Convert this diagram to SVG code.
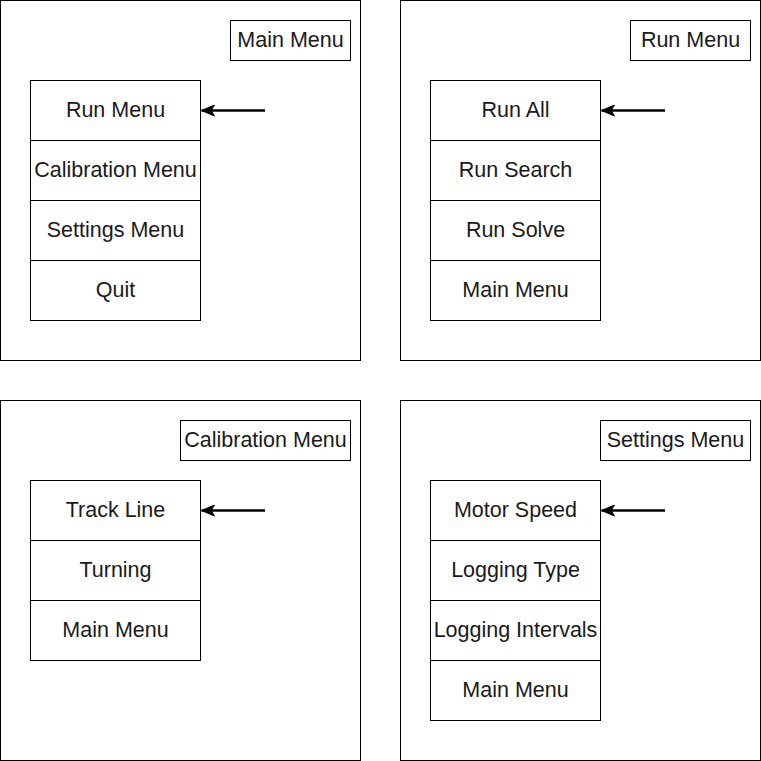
<svg xmlns="http://www.w3.org/2000/svg" width="761" height="761" viewBox="0 0 761 761">
<style>
rect{fill:#fff;stroke:#000;stroke-width:1}
text{font-family:"Liberation Sans",Arial,sans-serif;font-size:21.5px;fill:#1a1a1a;text-anchor:middle}
.arr{stroke:#000;stroke-width:2.5;fill:none}
</style>
<defs>
<marker id="ah" markerWidth="14" markerHeight="12" refX="13" refY="6" orient="auto" markerUnits="userSpaceOnUse">
<path d="M0,0.5 L13,6 L0,11.5 L3.5,6 Z" fill="#000" stroke="#000" stroke-width="1"/>
</marker>
</defs>
<g id="panel-main">
<rect x="0.5" y="0.5" width="360" height="360"/>
<rect x="230.5" y="20.5" width="120" height="40"/><text x="290.5" y="47">Main Menu</text>
<rect x="30.5" y="80.5" width="170" height="60"/><text x="115.5" y="117">Run Menu</text>
<rect x="30.5" y="140.5" width="170" height="60"/><text x="115.5" y="177">Calibration Menu</text>
<rect x="30.5" y="200.5" width="170" height="60"/><text x="115.5" y="237">Settings Menu</text>
<rect x="30.5" y="260.5" width="170" height="60"/><text x="115.5" y="297">Quit</text>
</g>
<g id="panel-run">
<rect x="400.5" y="0.5" width="360" height="360"/>
<rect x="630.5" y="20.5" width="120" height="40"/><text x="690.5" y="47">Run Menu</text>
<rect x="430.5" y="80.5" width="170" height="60"/><text x="515.5" y="117">Run All</text>
<rect x="430.5" y="140.5" width="170" height="60"/><text x="515.5" y="177">Run Search</text>
<rect x="430.5" y="200.5" width="170" height="60"/><text x="515.5" y="237">Run Solve</text>
<rect x="430.5" y="260.5" width="170" height="60"/><text x="515.5" y="297">Main Menu</text>
</g>
<g id="panel-calibration">
<rect x="0.5" y="400.5" width="360" height="360"/>
<rect x="180.5" y="420.5" width="170" height="40"/><text x="265.5" y="447">Calibration Menu</text>
<rect x="30.5" y="480.5" width="170" height="60"/><text x="115.5" y="517">Track Line</text>
<rect x="30.5" y="540.5" width="170" height="60"/><text x="115.5" y="577">Turning</text>
<rect x="30.5" y="600.5" width="170" height="60"/><text x="115.5" y="637">Main Menu</text>
</g>
<g id="panel-settings">
<rect x="400.5" y="400.5" width="360" height="360"/>
<rect x="600.5" y="420.5" width="150" height="40"/><text x="675.5" y="447">Settings Menu</text>
<rect x="430.5" y="480.5" width="170" height="60"/><text x="515.5" y="517">Motor Speed</text>
<rect x="430.5" y="540.5" width="170" height="60"/><text x="515.5" y="577">Logging Type</text>
<rect x="430.5" y="600.5" width="170" height="60"/><text x="515.5" y="637">Logging Intervals</text>
<rect x="430.5" y="660.5" width="170" height="60"/><text x="515.5" y="697">Main Menu</text>
</g>
<g id="connectors">
<line class="arr" x1="265" y1="110.5" x2="201.5" y2="110.5" marker-end="url(#ah)"/>
<line class="arr" x1="665" y1="110.5" x2="601.5" y2="110.5" marker-end="url(#ah)"/>
<line class="arr" x1="265" y1="510.5" x2="201.5" y2="510.5" marker-end="url(#ah)"/>
<line class="arr" x1="665" y1="510.5" x2="601.5" y2="510.5" marker-end="url(#ah)"/>
</g>
</svg>
